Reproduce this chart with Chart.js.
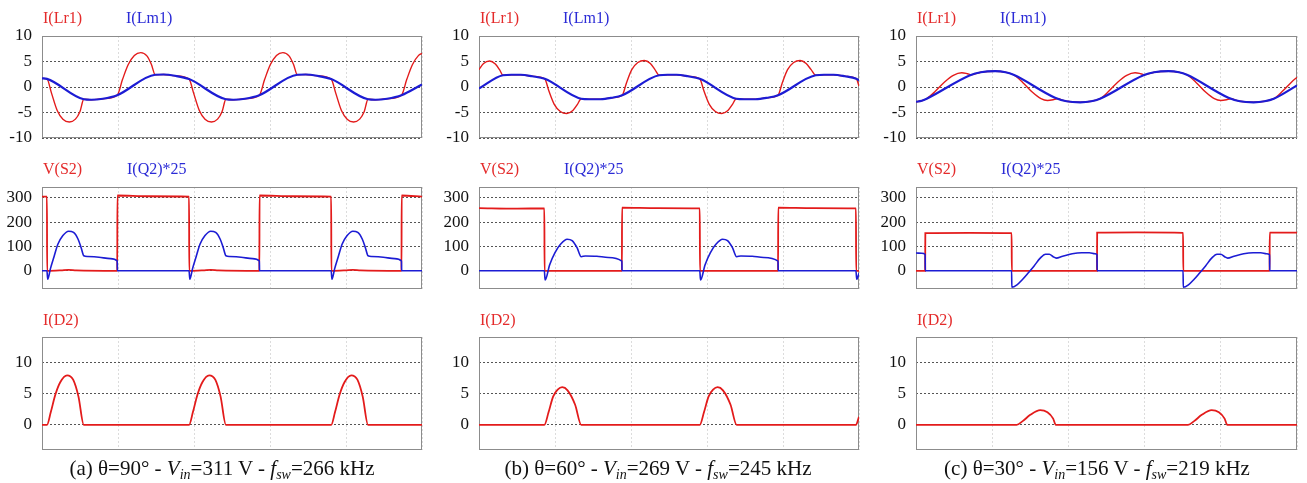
<!DOCTYPE html>
<html>
<head>
<meta charset="utf-8">
<script src="https://cdn.jsdelivr.net/npm/chart.js@4.4.0/dist/chart.umd.min.js"></script>
<style>
body{margin:0;background:#fff;width:1307px;height:483px;position:relative;overflow:hidden;font-family:"Liberation Serif","Times New Roman",serif;}
canvas{position:absolute;}
.lbl{position:absolute;font-size:16px;line-height:20px;white-space:nowrap;}
.red{color:#e42b2b}
.blue{color:#2b2bd6}
.cap{position:absolute;font-size:21px;line-height:24px;white-space:nowrap;transform:translateX(-50%);color:#111}
.cap sub{font-size:14px;font-style:italic;vertical-align:-4px;line-height:0}
</style>
</head>
<body>
<script>
// --- data, x = 0..100 across each plot ---

// (a) theta=90
const lr1A = [[0,1.7],[1.3,1.6],[2.5,-1.2],[4,-4.6],[5.5,-6.3],[7.2,-6.85],[8.8,-6.3],[10,-4.8],[11,-2.4],[13,-2.5],[16,-2.3],[19.8,-1.6],
  [21.2,1.5],[22.7,4.4],[24.3,6.2],[26,6.75],[27.6,6.1],[28.8,4.4],[29.8,2.4],[32,2.45],[35,2.2],[38.7,1.55],
  [39.9,-1.2],[41.4,-4.6],[42.9,-6.3],[44.6,-6.85],[46.2,-6.3],[47.4,-4.8],[48.4,-2.4],[50.4,-2.5],[53.4,-2.3],[57.2,-1.6],
  [58.6,1.5],[60.1,4.4],[61.7,6.2],[63.4,6.75],[65,6.1],[66.2,4.4],[67.2,2.4],[69.4,2.45],[72.4,2.2],[76.1,1.55],
  [77.3,-1.2],[78.8,-4.6],[80.3,-6.3],[82,-6.85],[83.6,-6.3],[84.8,-4.8],[85.8,-2.4],[87.8,-2.5],[90.8,-2.3],[94.6,-1.6],
  [96,1.5],[97.5,4.4],[99.1,6.2],[100,6.6]];
const lm1A = [[0,1.7],[1.3,1.6],[11,-2.4],[13,-2.5],[16,-2.3],[19.8,-1.6],[29.8,2.4],[32,2.45],[35,2.2],[38.7,1.55],
  [48.4,-2.4],[50.4,-2.5],[53.4,-2.3],[57.2,-1.6],[67.2,2.4],[69.4,2.45],[72.4,2.2],[76.1,1.55],
  [85.8,-2.4],[87.8,-2.5],[90.8,-2.3],[94.6,-1.6],[100,0.5]];
const vs2A = [[0,305],[1.3,305],[1.35,0],[5,2],[7,4],[9,2],[19.8,0],[19.85,310],[28,307],[38.7,305],[38.75,0],[42.4,2],[44.4,4],[46.4,2],
  [57.2,0],[57.25,310],[66,307],[76.1,305],[76.15,0],[79.8,2],[81.8,4],[83.8,2],[94.6,0],[94.65,310],[100,305]];
const iq2A = [[0,0],[1.3,0],[1.5,-35],[2.2,8],[3.2,60],[4.2,110],[5.5,145],[7,163],[8.3,158],[9.5,130],[10.3,95],[11,62],[12,59],[15,56],[18,50],[19.8,40],[19.85,0],
  [38.7,0],[38.9,-35],[39.6,8],[40.6,60],[41.6,110],[42.9,145],[44.4,163],[45.7,158],[46.9,130],[47.7,95],[48.4,62],[49.4,59],[52.4,56],[55.4,50],[57.2,40],[57.25,0],
  [76.1,0],[76.3,-35],[77,8],[78,60],[79,110],[80.3,145],[81.8,163],[83.1,158],[84.3,130],[85.1,95],[85.8,62],[86.8,59],[89.8,56],[92.8,50],[94.6,40],[94.65,0],[100,0]];
const id2A = [[0,0],[1.3,0],[2.3,2],[3.5,4.8],[4.8,6.8],[6.6,7.9],[8.2,7.2],[9.6,4.5],[11,0],
  [38.7,0],[39.7,2],[40.9,4.8],[42.2,6.8],[44,7.9],[45.6,7.2],[47,4.5],[48.4,0],
  [76.1,0],[77.1,2],[78.3,4.8],[79.6,6.8],[81.4,7.9],[83,7.2],[84.4,4.5],[85.8,0],[100,0]];

// (b) theta=60
const lr1B = [[0,3.4],[1.2,4.6],[2.8,5.1],[4.3,4.5],[5.4,3.4],[6.3,2.3],[8.5,2.4],[11,2.4],[14,2.1],[17.3,1.6],
  [18.4,-0.8],[19.8,-3.4],[21.4,-4.8],[23.1,-5.2],[24.7,-4.6],[25.9,-3.4],[26.9,-2.3],[29,-2.4],[32,-2.4],[35,-2.1],[37.7,-1.6],
  [38.8,0.8],[40.2,3.4],[41.8,4.8],[43.5,5.2],[45.1,4.6],[46.3,3.4],[47.4,2.3],[49.6,2.4],[52,2.4],[55,2.1],[58.1,1.6],
  [59.2,-0.8],[60.6,-3.4],[62.2,-4.8],[63.9,-5.2],[65.5,-4.6],[66.7,-3.4],[67.7,-2.3],[69.8,-2.4],[72.8,-2.4],[75.9,-2.1],[78.7,-1.6],
  [79.8,0.8],[81.2,3.4],[82.8,4.8],[84.5,5.2],[86.1,4.6],[87.4,3.4],[88.6,2.3],[90.8,2.4],[93.3,2.4],[96.3,2.1],[99.3,1.6],[100,0.2]];
const lm1B = [[0,-0.3],[6.3,2.3],[8.5,2.4],[11,2.4],[14,2.1],[17.3,1.6],[26.9,-2.3],[29,-2.4],[32,-2.4],[35,-2.1],[37.7,-1.6],
  [47.4,2.3],[49.6,2.4],[52,2.4],[55,2.1],[58.1,1.6],[67.7,-2.3],[69.8,-2.4],[72.8,-2.4],[75.9,-2.1],[78.7,-1.6],
  [88.6,2.3],[90.8,2.4],[93.3,2.4],[96.3,2.1],[99.3,1.6],[100,1.3]];
const vs2B = [[0,258],[10,256],[17.2,257],[17.25,0],[37.6,0],[37.65,260],[47,258],[58.1,257],[58.15,0],[78.7,0],[78.75,260],[88,258],[99.2,257],[99.25,0],[100,0]];
const iq2B = [[0,0],[17.2,0],[17.4,-38],[18.6,25],[20,75],[21.5,110],[23.2,130],[24.5,124],[25.8,95],[26.9,58],[28,61],[31,60],[34,55],[37.6,40],[37.65,0],
  [58.1,0],[58.3,-38],[59.5,25],[60.9,75],[62.4,110],[64.1,130],[65.4,124],[66.7,95],[67.8,58],[68.9,61],[71.9,60],[74.9,55],[78.7,40],[78.75,0],
  [99.2,0],[99.4,-35],[100,-10]];
const id2B = [[0,0],[17.2,0],[18.3,2],[19.5,4.5],[20.7,5.6],[21.9,6],[23.3,5.5],[25.3,3.2],[26.9,0],
  [58.1,0],[59.2,2],[60.4,4.5],[61.6,5.6],[62.8,6],[64.2,5.5],[66.2,3.2],[67.8,0],[99.2,0],[100,1.3]];

// (c) theta=30
const lr1C = [[0,-2.9],[1.5,-2.7],[2.8,-2.3],[5,-0.9],[7.5,1.0],[9.8,2.3],[12,2.8],[13.5,2.6],[14.5,2.4],[17,2.9],[20.8,3.1],[23.5,2.9],[25.6,2.4],
  [28,0.9],[30.5,-1.0],[32.8,-2.3],[34.5,-2.65],[36,-2.5],[37,-2.3],[39.5,-2.8],[43.1,-3.0],[46,-2.8],[48.3,-2.3],
  [50.5,-0.9],[53,1.0],[55.3,2.3],[57.5,2.8],[59,2.6],[60,2.4],[62.5,2.9],[66.3,3.1],[69,2.9],[71.1,2.4],
  [73.5,0.9],[76,-1.0],[78.3,-2.3],[80,-2.65],[81.5,-2.5],[82.5,-2.3],[85,-2.8],[88.6,-3.0],[91.5,-2.8],[93.9,-2.3],
  [96.1,-0.9],[98.6,1.0],[100,1.9]];
const lm1C = [[0,-2.9],[1.5,-2.7],[2.8,-2.3],[14.2,2.3],[17,2.9],[20.8,3.1],[23.5,2.9],[25.6,2.4],[36.5,-2.1],[39.5,-2.8],[43.1,-3.0],[46,-2.8],[48.3,-2.3],
  [59.7,2.3],[62.5,2.9],[66.3,3.1],[69,2.9],[71.1,2.4],[82,-2.1],[85,-2.8],[88.6,-3.0],[91.5,-2.8],[93.9,-2.3],[100,0.3]];
const vs2C = [[0,0],[2.4,0],[2.45,155],[14,156],[25.1,155],[25.15,0],[47.5,0],[47.55,157],[58,158],[70.1,156],[70.15,0],[92.8,0],[92.85,157],[100,157]];
const iq2C = [[0,73],[1.5,72],[2.4,67],[2.45,0],[25.1,0],[25.15,-68],[26.5,-58],[28,-35],[29.5,-8],[31,20],[32.6,52],[34,68],[35,68],[36,58],[36.8,52],[38.5,60],[41,70],[43.5,74],[45.5,74],[47,70],[47.5,66],[47.55,0],
  [70.1,0],[70.15,-68],[71.5,-58],[73,-35],[74.5,-8],[76,20],[77.6,52],[79,68],[80,68],[81,58],[81.8,52],[83.5,60],[86,70],[88.5,74],[90.5,74],[92,70],[92.8,66],[92.85,0],[100,0]];
const id2C = [[0,0],[26.4,0],[28,0.6],[30,1.6],[32.6,2.35],[34.5,2.0],[36,1.0],[36.7,0],[71.4,0],[73,0.6],[75,1.6],[77.6,2.35],[79.5,2.0],[81,1.0],[81.7,0],[100,0]];

const ticksRow1 = [-10, -5, 0, 5, 10];
const ticksRow2 = [0, 100, 200, 300];
const ticksRow3 = [0, 5, 10];
const titlesRow1 = ['I(Lr1)', 'I(Lm1)'];
const titlesRow2 = ['V(S2)', 'I(Q2)*25'];
const titlesRow3 = ['I(D2)'];
const captions = [
  '(a) θ=90° - <i>V<sub>in</sub></i>=311 V - <i>f<sub>sw</sub></i>=266 kHz',
  '(b) θ=60° - <i>V<sub>in</sub></i>=269 V - <i>f<sub>sw</sub></i>=245 kHz',
  '(c) θ=30° - <i>V<sub>in</sub></i>=156 V - <i>f<sub>sw</sub></i>=219 kHz'
];

// --- layout ---
const colL = [42, 479, 916], colR = [422, 859, 1297];
const rowT = [36, 187, 337], rowB = [138, 289, 450];
const capX = [222, 658, 1097];
const RED = '#e31b1b', BLUE = '#1c1cd4';

const frame = {
  id: 'frame',
  beforeDatasetsDraw(c) {
    const a = c.chartArea, x = c.ctx;
    x.save(); x.setLineDash([]); x.strokeStyle = '#8c8c8c'; x.lineWidth = 1;
    x.strokeRect(a.left + 0.5, a.top + 0.5, a.right - a.left - 1, a.bottom - a.top - 1);
    x.restore();
  }
};

function plot(col, row, sets, yMin, yMax, yTicks) {
  const L = colL[col], R = colR[col], T = rowT[row], B = rowB[row];
  const padL = 44, padR = 6, padV = 24;
  const cv = document.createElement('canvas');
  cv.width = R - L + padL + padR; cv.height = B - T + 2 * padV;
  cv.style.left = (L - padL) + 'px'; cv.style.top = (T - padV) + 'px';
  document.body.appendChild(cv);
  new Chart(cv, {
    type: 'line',
    data: { datasets: sets.map(s => ({
      data: s.pts.map(p => ({x: p[0], y: p[1]})),
      borderColor: s.color, borderWidth: s.w, pointRadius: 0,
      cubicInterpolationMode: 'monotone', fill: false
    })) },
    options: {
      responsive: false, animation: false,
      layout: { padding: { left: 0, right: padR, top: padV, bottom: padV } },
      plugins: { legend: { display: false }, tooltip: { enabled: false } },
      scales: {
        x: { type: 'linear', min: 0, max: 100,
             ticks: { display: false, stepSize: 20 },
             grid: { color: '#dcdcdc', drawTicks: false },
             border: { display: false, dash: [2, 2] },
             afterFit(s) { s.height = 0; } },
        y: { min: yMin, max: yMax,
             afterBuildTicks(s) { s.ticks = yTicks.map(v => ({value: v})); },
             ticks: { padding: 10, color: '#111', font: { family: 'Liberation Serif', size: 17 } },
             grid: { color: '#555', drawTicks: false },
             border: { display: false, dash: [2, 2] },
             afterFit(s) { s.width = padL; } }
      }
    },
    plugins: [frame]
  });
}

function label(txt, cls, x, y) {
  const d = document.createElement('div');
  d.className = 'lbl ' + cls; d.textContent = txt;
  d.style.left = x + 'px'; d.style.top = y + 'px';
  document.body.appendChild(d);
}

const all = [
  [lr1A, lm1A, vs2A, iq2A, id2A],
  [lr1B, lm1B, vs2B, iq2B, id2B],
  [lr1C, lm1C, vs2C, iq2C, id2C]
];

all.forEach((s, c) => {
  plot(c, 0, [{pts: s[1], color: BLUE, w: 2.2}, {pts: s[0], color: RED, w: 1.4}], -10, 10, ticksRow1);
  plot(c, 1, [{pts: s[3], color: BLUE, w: 1.6}, {pts: s[2], color: RED, w: 1.8}], -75, 345, ticksRow2);
  plot(c, 2, [{pts: s[4], color: RED, w: 1.8}], -4, 14, ticksRow3);

  const x0 = colL[c] + 1;
  label(titlesRow1[0], 'red', x0, 8);  label(titlesRow1[1], 'blue', x0 + 83, 8);
  label(titlesRow2[0], 'red', x0, 159); label(titlesRow2[1], 'blue', x0 + 84, 159);
  label(titlesRow3[0], 'red', x0, 310);

  const cap = document.createElement('div');
  cap.className = 'cap'; cap.innerHTML = captions[c];
  cap.style.left = capX[c] + 'px'; cap.style.top = '456px';
  document.body.appendChild(cap);
});
</script>
</body>
</html>
